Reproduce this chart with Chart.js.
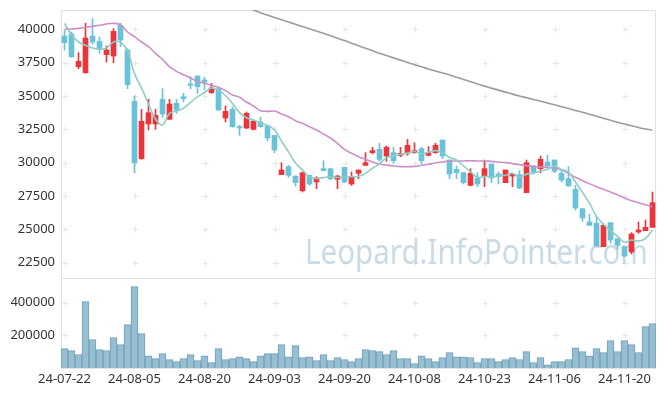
<!DOCTYPE html>
<html>
<head>
<meta charset="utf-8">
<script src="https://cdn.jsdelivr.net/npm/chart.js@4.4.1/dist/chart.umd.min.js"></script>
<style>
  html, body { margin: 0; padding: 0; background: #fff; }
  #wrap { position: relative; width: 665px; height: 396px; }
  #price { position: absolute; left: 0; top: 0; }
  #volume { position: absolute; left: 0; top: 278px; }
</style>
</head>
<body>
<div id="wrap">
  <canvas id="price" width="665" height="278"></canvas>
  <canvas id="volume" width="665" height="118"></canvas>
</div>
<script>
const dates = [
  '24-07-22','24-07-23','24-07-24','24-07-25','24-07-26','24-07-29','24-07-30','24-07-31','24-08-01','24-08-02',
  '24-08-05','24-08-06','24-08-07','24-08-08','24-08-09','24-08-12','24-08-13','24-08-14','24-08-16','24-08-19',
  '24-08-20','24-08-21','24-08-22','24-08-23','24-08-26','24-08-27','24-08-28','24-08-29','24-08-30','24-09-02',
  '24-09-03','24-09-04','24-09-05','24-09-06','24-09-09','24-09-10','24-09-11','24-09-12','24-09-13','24-09-19',
  '24-09-20','24-09-23','24-09-24','24-09-25','24-09-26','24-09-27','24-09-30','24-10-02','24-10-04','24-10-07',
  '24-10-08','24-10-10','24-10-11','24-10-14','24-10-15','24-10-16','24-10-17','24-10-18','24-10-21','24-10-22',
  '24-10-23','24-10-24','24-10-25','24-10-28','24-10-29','24-10-30','24-10-31','24-11-01','24-11-04','24-11-05',
  '24-11-06','24-11-07','24-11-08','24-11-11','24-11-12','24-11-13','24-11-14','24-11-15','24-11-18','24-11-19',
  '24-11-20','24-11-21','24-11-22','24-11-25','24-11-26'
];

const open = [
  39500, 39650, 37200, 36750, 39500, 39100, 38100, 38000, 40300, 38450,
  34600, 30300, 32900, 32900, 34750, 33250, 34450, 34950, 35900, 36500,
  36200, 35250, 35550, 33350, 34000, 32700, 32600, 32500, 33050, 32750,
  32050, 29100, 29700, 29000, 27900, 29050, 28550, 29550, 29550, 28750,
  29650, 28400, 29200, 29800, 30750, 31000, 30500, 30750, 30550, 30700,
  30750, 31050, 30550, 30750, 31700, 30200, 29500, 29250, 28300, 28850,
  28950, 29900, 29150, 28500, 29000, 29100, 27750, 29750, 29550, 30050,
  30200, 29200, 28800, 28000, 26550, 25550, 25450, 23700, 25500, 24300,
  23700, 23300, 24800, 24900, 25150
];
const high = [
  39900, 39800, 38250, 40450, 40800, 39400, 38750, 40050, 40450, 38550,
  35000, 34000, 34750, 34000, 35550, 34750, 34750, 35200, 36450, 36500,
  36400, 35950, 35550, 34250, 34200, 32800, 33800, 33200, 33400, 32800,
  32050, 30000, 29800, 29000, 29300, 29050, 28950, 30150, 29550, 29050,
  29650, 29300, 29450, 30750, 31150, 31450, 31250, 31150, 31150, 31750,
  31500, 31150, 31200, 31450, 31700, 30200, 29750, 29250, 29550, 29250,
  30200, 29900, 29300, 29450, 29200, 29400, 30200, 29750, 30500, 30550,
  30200, 29400, 29700, 28300, 26550, 26150, 25950, 25400, 25500, 24300,
  23700, 24750, 25550, 25700, 27800
];
const low = [
  38450, 37900, 37050, 36700, 38900, 38200, 37550, 37500, 38700, 35550,
  29250, 30250, 32450, 32500, 33400, 33250, 33700, 34550, 35550, 35200,
  35450, 35200, 33900, 33050, 32650, 32050, 32550, 32450, 32650, 31650,
  30750, 29100, 28900, 28250, 27800, 28300, 28050, 29400, 28700, 28050,
  28500, 28300, 28800, 29800, 30650, 30100, 30100, 29950, 30450, 30550,
  30700, 29900, 30500, 30700, 30300, 28800, 28800, 28400, 28250, 28200,
  28200, 28500, 28400, 28500, 28200, 28050, 27750, 29150, 29250, 29750,
  29250, 28550, 28250, 26450, 25600, 25300, 23750, 23700, 23950, 23500,
  22950, 23150, 24700, 24900, 25150
];
const close = [
  39000, 37950, 37600, 39350, 39050, 38500, 38450, 39850, 39200, 35850,
  30000, 33100, 33750, 33550, 33650, 34400, 33950, 34800, 35800, 35700,
  36050, 35600, 33950, 33850, 32700, 32600, 33700, 33100, 32700, 31850,
  30950, 29450, 29050, 28500, 29250, 28400, 28850, 29400, 28800, 29000,
  28550, 28950, 29450, 30000, 30900, 30250, 31150, 30150, 30700, 31300,
  30900, 30150, 30750, 31300, 30500, 29150, 29250, 28500, 29200, 28400,
  29550, 28850, 28950, 29450, 29150, 28100, 30000, 29300, 30250, 29750,
  29350, 28700, 28250, 26600, 25850, 25300, 23750, 25300, 24200, 23800,
  23000, 24650, 24950, 25150, 27000
];

// moving averages as drawn on the chart
const ma5 = [
  40450, 39600, 39050, 38800, 38600, 38500, 38600, 39050, 39020, 38380,
  36680, 35610, 34390, 33270, 32820, 33700, 33870, 34080, 34520, 34930,
  35260, 35600, 35420, 35040, 34440, 33750, 33370, 33200, 32970, 32800,
  32470, 31620, 30810, 29970, 29440, 28930, 28810, 28880, 28940, 28890,
  28930, 28950, 28960, 29200, 29580, 29920, 30360, 30500, 30630, 30720,
  30840, 30650, 30780, 30900, 30740, 30390, 30200, 29750, 29320, 28900,
  28980, 28910, 29000, 29050, 29200, 28910, 29140, 29210, 29380, 29500,
  29750, 29490, 29280, 28550, 27770, 26960, 25970, 25380, 24890, 24480,
  24020, 24200, 24120, 24310, 24950
];
const ma20 = [
  40000, 40030, 40070, 40150, 40230, 40300, 40400, 40450, 40350, 39800,
  39450, 39050, 38700, 38200, 37750, 37200, 36850, 36600, 36350, 36100,
  35950, 35800, 35650, 35400, 35080, 34900, 34550, 34250, 33900, 33850,
  33870, 33650, 33450, 33150, 32950, 32700, 32450, 32150, 31850, 31450,
  31000, 30700, 30450, 30250, 30050, 29900, 29820, 29750, 29700, 29690,
  29720, 29800, 29880, 29980, 30050, 30120, 30130, 30130, 30140, 30130,
  30120, 30100, 30050, 30000, 29930, 29850, 29780, 29720, 29680, 29650,
  29600, 29450, 29200, 28900, 28650, 28420, 28200, 28000, 27800, 27600,
  27350, 27150, 27000, 26850, 26700
];
const ma120 = [
  null, null, null, null, null, null, null, null, null, null,
  null, null, null, null, null, null, null, null, null, null,
  null, null, null, null, null, 41780, 41620, 41450, 41250, 41060,
  40880, 40720, 40550, 40380, 40210, 40040, 39870, 39700, 39520, 39340,
  39160, 38960, 38770, 38580, 38390, 38200, 38030, 37860, 37690, 37520,
  37350, 37190, 37030, 36870, 36720, 36580, 36410, 36240, 36070, 35900,
  35740, 35590, 35440, 35290, 35140, 35000, 34870, 34740, 34610, 34480,
  34340, 34200, 34060, 33920, 33780, 33630, 33480, 33330, 33180, 33030,
  32900, 32770, 32640, 32520, 32450
];

const volume = [
  118000, 106000, 82000, 406000, 173000, 112000, 106000, 186000, 143000, 265000,
  497000, 210000, 75000, 57000, 88000, 51000, 39000, 57000, 82000, 45000,
  75000, 33000, 118000, 51000, 57000, 69000, 57000, 39000, 75000, 88000,
  88000, 143000, 69000, 137000, 63000, 69000, 45000, 82000, 45000, 63000,
  51000, 39000, 57000, 112000, 106000, 100000, 82000, 106000, 57000, 57000,
  27000, 75000, 57000, 39000, 63000, 94000, 69000, 69000, 63000, 33000,
  57000, 57000, 39000, 51000, 63000, 51000, 100000, 33000, 63000, 20000,
  39000, 39000, 51000, 124000, 100000, 75000, 118000, 94000, 167000, 100000,
  167000, 143000, 94000, 253000, 271000
];

const priceTicks = [22500, 25000, 27500, 30000, 32500, 35000, 37500, 40000];
const volumeTicks = [200000, 400000];
const labelEvery = 10;

Chart.defaults.font.family = '"Noto Sans", sans-serif';
Chart.defaults.font.size = 13;
Chart.defaults.color = '#333';

const upColor = '#eb353b';
const downColor = '#69c2d7';
const candleColors = close.map((c, i) => c >= open[i] ? upColor : downColor);

// y axes: fixed width, and no extra room kept for half a label above/below
const fitY = s => {
  s.width = 61;
  s.paddingTop = 0;
  s.paddingBottom = 0;
};

// box round the plot and the small "+" marks where grid lines would cross
const frame = {
  id: 'frame',
  beforeDatasetsDraw(chart) {
    const { ctx, chartArea: a, scales } = chart;
    ctx.save();
    ctx.strokeStyle = '#e2e2e2';
    ctx.lineWidth = 1;
    ctx.strokeRect(a.left + 0.5, a.top + 0.5, a.width - 1, a.height);
    ctx.strokeStyle = '#e6e6e6';
    ctx.beginPath();
    for (let i = 0; i < dates.length; i += labelEvery) {
      const x = Math.round(scales.x.getPixelForValue(i)) + 0.5;
      scales.y.ticks.forEach(t => {
        const y = Math.round(scales.y.getPixelForValue(t.value)) + 0.5;
        ctx.moveTo(x - 3, y); ctx.lineTo(x + 3, y);
        ctx.moveTo(x, y - 3); ctx.lineTo(x, y + 3);
      });
    }
    ctx.stroke();
    ctx.restore();
  }
};

const watermark = {
  id: 'watermark',
  beforeDatasetsDraw(chart) {
    const ctx = chart.ctx;
    const text = 'Leopard.InfoPointer.com';
    ctx.save();
    ctx.font = '34px "Noto Sans", sans-serif';
    ctx.fillStyle = 'rgba(170,199,218,0.65)';
    const w = ctx.measureText(text).width;
    ctx.translate(305, 264);
    ctx.scale(343 / w, 1);
    ctx.fillText(text, 0, 0);
    ctx.restore();
  }
};

const lineStyle = { type: 'line', pointRadius: 0, borderWidth: 1.6, tension: 0.35, fill: false, order: 1 };

new Chart(document.getElementById('price'), {
  type: 'bar',
  data: {
    labels: dates,
    datasets: [
      { ...lineStyle, label: 'MA5', data: ma5, borderColor: '#8dcec5' },
      { ...lineStyle, label: 'MA20', data: ma20, borderColor: '#cc90c8' },
      { ...lineStyle, label: 'MA120', data: ma120, borderColor: '#9c9c9c' },
      {
        label: 'body', data: open.map((o, i) => [o, close[i]]),
        backgroundColor: candleColors, barThickness: 5, grouped: false, order: 2
      },
      {
        label: 'wick', data: low.map((l, i) => [l, high[i]]),
        backgroundColor: candleColors, barThickness: 1, grouped: false, order: 3
      }
    ]
  },
  options: {
    responsive: false,
    animation: false,
    devicePixelRatio: 1,
    layout: { padding: { top: 10, right: 9, bottom: 0, left: 0 } },
    plugins: { legend: { display: false }, tooltip: { enabled: false } },
    scales: {
      x: { display: false, offset: true },
      y: {
        min: 21350, max: 41450,
        afterBuildTicks: s => { s.ticks = priceTicks.map(v => ({ value: v })); },
        afterFit: fitY,
        grid: { display: false, drawTicks: false },
        border: { display: false },
        ticks: { padding: 6, callback: v => String(v) }
      }
    }
  },
  plugins: [frame, watermark]
});

new Chart(document.getElementById('volume'), {
  type: 'bar',
  data: {
    labels: dates,
    datasets: [{
      label: 'Volume', data: volume,
      backgroundColor: '#98bfd1', borderColor: '#6f9fb8', borderWidth: 1,
      barPercentage: 1, categoryPercentage: 1
    }]
  },
  options: {
    responsive: false,
    animation: false,
    devicePixelRatio: 1,
    layout: { padding: { top: 0, right: 9, bottom: 0, left: 0 } },
    plugins: { legend: { display: false }, tooltip: { enabled: false } },
    scales: {
      x: {
        grid: { display: false, drawTicks: false },
        border: { display: false },
        afterFit: s => { s.height = 28; },
        ticks: {
          autoSkip: false, maxRotation: 0, padding: 3,
          callback: (v, i) => i % labelEvery === 0 ? dates[i] : null
        }
      },
      y: {
        min: 0, max: 550000,
        afterBuildTicks: s => { s.ticks = volumeTicks.map(v => ({ value: v })); },
        afterFit: fitY,
        grid: { display: false, drawTicks: false },
        border: { display: false },
        ticks: { padding: 6, callback: v => String(v) }
      }
    }
  },
  plugins: [frame]
});
</script>
</body>
</html>
